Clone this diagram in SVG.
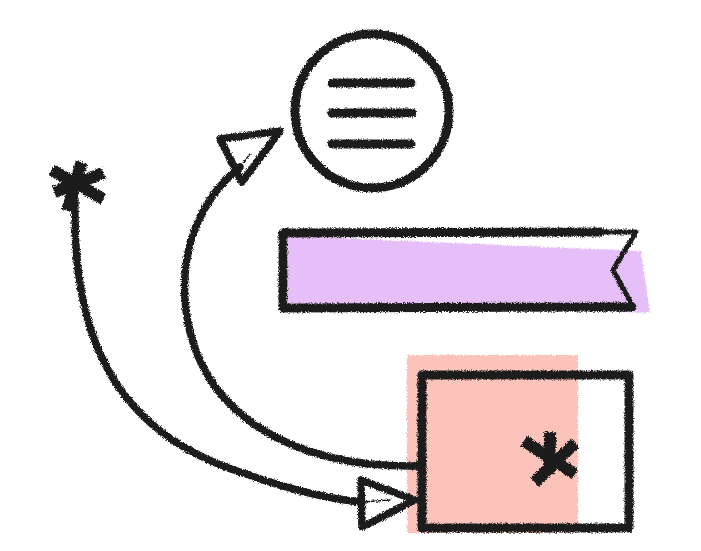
<svg xmlns="http://www.w3.org/2000/svg" width="701" height="551" viewBox="0 0 701 551">
<defs>
<filter id="rough" x="-10%" y="-10%" width="120%" height="120%">
<feTurbulence type="fractalNoise" baseFrequency="1.2" numOctaves="2" seed="3" result="n"/>
<feDisplacementMap in="SourceGraphic" in2="n" scale="4" xChannelSelector="R" yChannelSelector="G"/>
</filter>
</defs>
<style>
.ink{fill:none;stroke:#1e1e1e;stroke-linejoin:round;stroke-linecap:round}
.thick{stroke-width:9}
.mid{stroke-width:7.5}
.thin{stroke-width:5}
.star{fill:none;stroke:#1e1e1e;stroke-width:12;stroke-linecap:square}
</style>
<rect width="701" height="551" fill="#ffffff"/>
<g filter="url(#rough)">
<g id="circle-node">
<circle class="ink thick" cx="372" cy="111" r="77"/>
<line class="ink thick" x1="332" y1="83" x2="411" y2="83"/>
<line class="ink thick" x1="332" y1="113" x2="412" y2="113"/>
<line class="ink thick" x1="332" y1="144" x2="411" y2="144"/>
</g>
<g id="banner-node">
<polygon points="288,236 641,251 650,313 288,303" fill="#e6bff8"/>
<path class="ink thick" d="M283,233 L600,232 M283,233 L283,308 L632,307"/>
<path class="ink thin" d="M600,232 L636,232 L613,270 L632,305"/>
</g>
<g id="box-node">
<rect x="407" y="355" width="171" height="178" fill="#fcc3bb"/>
<rect class="ink thick" x="422" y="375" width="207" height="153"/>
<g class="star">
<line x1="529" y1="444" x2="570" y2="471"/>
<line x1="571" y1="447" x2="539" y2="478"/>
<line x1="550" y1="438" x2="549" y2="468"/>
</g>
</g>
<g id="star-node" class="star">
<line x1="57" y1="173" x2="98" y2="196"/>
<line x1="98" y1="175" x2="60" y2="190"/>
<line x1="80" y1="168" x2="69" y2="205"/>
</g>
<g id="connectors">
<path class="ink mid" d="M418,466 C300,468 200,420 186,310 C178,245 205,195 240,167"/>
<path class="ink" stroke-width="1.5" d="M240,167 L250,154"/>
<polygon class="ink mid" points="220,139 280,131 242,182"/>
<path class="ink mid" d="M75,200 C72,330 110,430 240,472 C290,490 330,499 362,502"/>
<path class="ink" stroke-width="1.5" d="M362,502 L390,500"/>
<polygon class="ink mid" points="361,480 415,500 362,527"/>
</g>
</g>
</svg>
